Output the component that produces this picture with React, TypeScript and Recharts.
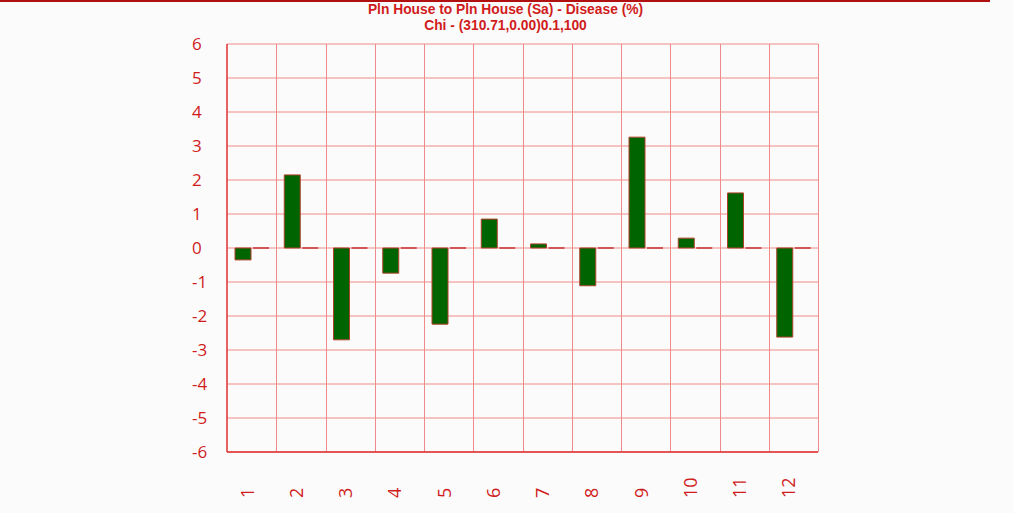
import { Bar, BarChart, CartesianGrid, XAxis, YAxis } from "recharts";

const houses = ["1", "2", "3", "4", "5", "6", "7", "8", "9", "10", "11", "12"];
const diseaseValues = [-0.35, 2.15, -2.7, -0.74, -2.24, 0.85, 0.12, -1.11, 3.26, 0.29, 1.62, -2.62];
const baseValues = [0, 0, 0, 0, 0, 0, 0, 0, 0, 0, 0, 0];
const yTicks = [-6, -5, -4, -3, -2, -1, 0, 1, 2, 3, 4, 5, 6];

const data = houses.map((h, i) => ({ name: h, disease: diseaseValues[i], base: baseValues[i] }));

const RED = "#d01c1c";
const FONT = "'Open Sans', 'DejaVu Sans', sans-serif";

function YTick(props: any) {
  const { y, payload } = props;
  return (
    <text x={192} y={y} dy={6} textAnchor="start" fill={RED} fontSize={17} fontFamily={FONT}>
      {payload.value}
    </text>
  );
}

function XTick(props: any) {
  const { x, payload } = props;
  const y = 498;
  const tx = x - 5;
  return (
    <text
      x={tx}
      y={y}
      transform={`rotate(-90, ${tx}, ${y})`}
      textAnchor="start"
      dominantBaseline="central"
      fill={RED}
      fontSize={18}
      fontFamily={FONT}
    >
      {payload.value}
    </text>
  );
}

// zero-height series drawn as a thin line on the baseline
function BaseLine(props: any) {
  const { x, y, width } = props;
  return <line x1={x} x2={x + width} y1={y} y2={y} stroke="#c83030" strokeWidth={1.5} />;
}

export default function App() {
  return (
    <div style={{ position: "absolute", left: 0, top: 0, width: 1013, height: 513, background: "#fbfbfb" }}>
      <div style={{ position: "absolute", left: 0, top: 0, width: 990, height: 2, background: "#b01010" }} />
      <div
        style={{
          position: "absolute",
          left: 0,
          top: 2,
          width: 1011,
          textAlign: "center",
          color: RED,
          fontFamily: "'Liberation Sans', Arial, sans-serif",
          fontWeight: "bold",
          fontSize: 13.8,
          lineHeight: "16px",
        }}
      >
        <div>Pln House to Pln House (Sa) - Disease (%)</div>
        <div>Chi - (310.71,0.00)0.1,100</div>
      </div>
      <div style={{ position: "absolute", left: 0, top: 0 }}>
        <BarChart
          width={1013}
          height={513}
          data={data}
          margin={{ top: 44, right: 195, left: 0, bottom: 0 }}
          barCategoryGap={8}
          barGap={2}
        >
          <CartesianGrid
            stroke="#f08a8a"
            strokeWidth={1}
            verticalCoordinatesGenerator={({ offset }: any) =>
              houses.map((_, i) => Math.round(offset.left + ((i + 1) * offset.width) / houses.length) + 0.5)
            }
          />
          <XAxis
            dataKey="name"
            height={61}
            axisLine={{ stroke: "#e03030", strokeWidth: 1.5 }}
            tickLine={false}
            tick={<XTick />}
            interval={0}
          />
          <YAxis
            width={227}
            domain={[-6, 6]}
            ticks={yTicks}
            allowDataOverflow
            axisLine={{ stroke: "#e03030", strokeWidth: 1.5 }}
            tickLine={false}
            tick={<YTick />}
          />
          <Bar dataKey="disease" fill="#006400" stroke="#b0402a" strokeWidth={1} isAnimationActive={false} />
          <Bar dataKey="base" fill="#c83030" shape={<BaseLine />} isAnimationActive={false} />
        </BarChart>
      </div>
    </div>
  );
}
